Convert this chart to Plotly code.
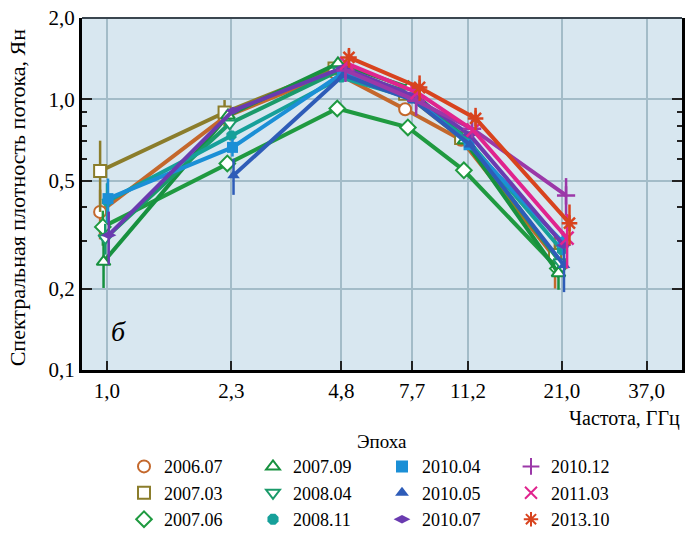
import plotly.graph_objects as go
import numpy as np

# ---------------- data ----------------
freqs = [1.0, 2.3, 4.8, 7.7, 11.2, 21.0]
x_tick_vals = [1.0, 2.3, 4.8, 7.7, 11.2, 21.0, 37.0]
x_tick_text = ["1,0", "2,3", "4,8", "7,7", "11,2", "21,0", "37,0"]
y_tick_vals = [0.1, 0.2, 0.5, 1.0, 2.0]
y_tick_text = ["0,1", "0,2", "0,5", "1,0", "2,0"]

epochs = ["2006.07", "2007.03", "2007.06", "2007.09", "2008.04", "2008.11",
          "2010.04", "2010.05", "2010.07", "2010.12", "2011.03", "2013.10"]

flux_2006_07 = [0.384, 0.86, 1.26, 0.92, 0.71, 0.26]
flux_2007_03 = [0.544, 0.895, 1.30, 1.05, 0.72, 0.266]
flux_2007_06 = [0.338, 0.58, 0.926, 0.788, 0.547, 0.237]
flux_2007_09 = [0.251, 0.873, 1.36, 1.107, 0.706, 0.228]
flux_2008_04 = [0.307, 0.815, 1.28, 1.06, 0.72, 0.25]
flux_2008_11 = [0.42, 0.736, 1.205, 1.01, 0.706, 0.277]
flux_2010_04 = [0.43, 0.665, 1.25, 1.017, 0.68, 0.296]
flux_2010_05 = [None, 0.524, 1.23, 0.99, 0.68, 0.244]
flux_2010_07 = [0.315, 0.91, 1.31, 1.03, 0.74, 0.289]
flux_2010_12 = [None, None, 1.28, 0.99, 0.78, 0.442]
flux_2011_03 = [None, None, 1.36, 1.06, 0.77, 0.307]
flux_2013_10 = [None, None, 1.43, 1.107, 0.851, 0.349]

err_2006_07 = [0.08, 0, 0, 0.05, 0, 0.06]
err_2007_03 = [0.16, 0.1, 0, 0, 0, 0.03]
err_2007_06 = [0.05, 0, 0, 0, 0, 0]
err_2007_09 = [0.05, 0, 0, 0, 0, 0.03]
err_2008_04 = [0.04, 0, 0, 0, 0, 0]
err_2008_11 = [0.07, 0, 0, 0, 0, 0]
err_2010_04 = [0.08, 0.05, 0, 0, 0, 0.03]
err_2010_05 = [0, 0.08, 0, 0, 0, 0.05]
err_2010_07 = [0.07, 0, 0, 0, 0, 0]
err_2010_12 = [0, 0, 0.12, 0.12, 0, 0.07]
err_2011_03 = [0, 0, 0, 0, 0, 0.07]
err_2013_10 = [0, 0, 0.12, 0.12, 0.08, 0.06]

fluxes = [flux_2006_07, flux_2007_03, flux_2007_06, flux_2007_09, flux_2008_04, flux_2008_11,
          flux_2010_04, flux_2010_05, flux_2010_07, flux_2010_12, flux_2011_03, flux_2013_10]
errors = [err_2006_07, err_2007_03, err_2007_06, err_2007_09, err_2008_04, err_2008_11,
          err_2010_04, err_2010_05, err_2010_07, err_2010_12, err_2011_03, err_2013_10]

# ---------------- style ----------------
colors = ["#c4682c", "#8b7d2b", "#1f9a40", "#17913f", "#1a9a6a", "#16a09a",
          "#1b8fd6", "#2e5cb8", "#6a3bb0", "#9b38a8", "#e0248e", "#d8431e"]
symbols = ["circle", "square", "diamond", "triangle-up", "triangle-down", "octagon",
           "square", "triangle-up", "diamond-wide", "cross-thin", "x-thin", "asterisk"]
open_marker = [True, True, True, True, True, False,
               False, False, False, False, False, False]
x_jitter = [-0.02, -0.02, -0.012, -0.01, -0.005, 0.0,
            0.003, 0.006, 0.005, 0.012, 0.015, 0.022]
legend_rank = [1, 5, 9, 2, 6, 10, 3, 7, 11, 4, 8, 12]

SERIF = "Liberation Serif"

fig = go.Figure()

for i, name in enumerate(epochs):
    xs = [f * 10 ** x_jitter[i] for f in freqs]
    c = colors[i]
    thin = symbols[i] in ("cross-thin", "x-thin", "asterisk")
    if open_marker[i]:
        mk = dict(symbol=symbols[i], size=12, color="white", line=dict(color=c, width=2))
    elif thin:
        mk = dict(symbol=symbols[i], size=13, color=c, line=dict(color=c, width=2.5))
    else:
        mk = dict(symbol=symbols[i], size=11, color=c, line=dict(color=c, width=0))
    fig.add_trace(go.Scatter(
        x=xs, y=fluxes[i], mode="lines+markers", name=name,
        line=dict(color=c, width=4),
        marker=mk,
        error_y=dict(type="data", array=errors[i], symmetric=True,
                     color=c, thickness=2.5, width=0),
        showlegend=False,
    ))
    # legend entry (markers only)
    fig.add_trace(go.Scatter(
        x=[None], y=[None], mode="markers", name=name,
        marker=mk, showlegend=True, legendrank=legend_rank[i],
    ))

fig.add_annotation(text="<i>б</i>", x=0.045, y=0.06, xref="paper", yref="paper",
                   showarrow=False, font=dict(family=SERIF, size=28, color="black"))
fig.add_annotation(text="Частота, ГГц", x=1.0, y=-0.139, xref="paper", yref="paper",
                   xanchor="right", yanchor="middle", showarrow=False,
                   font=dict(family=SERIF, size=20, color="black"))
fig.add_annotation(text="Спектральная плотность потока, Ян", x=-0.107, y=0.49,
                   xref="paper", yref="paper", textangle=-90, showarrow=False,
                   xanchor="center", yanchor="middle",
                   font=dict(family=SERIF, size=22, color="black"))
# top border (thin)
fig.add_shape(type="line", xref="paper", yref="paper", x0=0, x1=1, y0=1, y1=1,
              line=dict(color="#3a4650", width=2))

fig.update_xaxes(
    type="log", range=[np.log10(0.846), np.log10(46.9)],
    tickmode="array", tickvals=x_tick_vals, ticktext=x_tick_text,
    ticks="inside", ticklen=9, tickwidth=2, tickcolor="#222",
    showgrid=True, gridcolor="#a3bcc8", gridwidth=1.5,
    showline=True, linecolor="black", linewidth=3, mirror=False,
    tickfont=dict(family=SERIF, size=21, color="black"),
    zeroline=False,
)
fig.update_yaxes(
    type="log", range=[-1, np.log10(2.0)],
    tickmode="array", tickvals=y_tick_vals, ticktext=y_tick_text,
    ticks="inside", ticklen=10, tickwidth=2, tickcolor="#222",
    minor=dict(tickmode="array", tickvals=[0.3, 0.4, 0.6, 0.7, 0.8, 0.9],
               ticks="inside", ticklen=5, tickwidth=1.5, tickcolor="#222", showgrid=False),
    showgrid=True, gridcolor="#a3bcc8", gridwidth=1.5,
    showline=True, linecolor="black", linewidth=3, mirror="ticks",
    tickfont=dict(family=SERIF, size=21, color="black"),
    zeroline=False,
)

fig.update_layout(
    width=686, height=535,
    margin=dict(l=82, r=4, t=18, b=165, autoexpand=False),
    paper_bgcolor="white", plot_bgcolor="#d8e7f0",
    font=dict(family=SERIF, size=20, color="black"),
    legend=dict(
        orientation="h", x=0.5, xanchor="center", y=-0.152, yanchor="top",
        entrywidth=84, entrywidthmode="pixels",
        title=dict(text="Эпоха", side="top center", font=dict(family=SERIF, size=19)),
        font=dict(family=SERIF, size=18, color="black"),
        traceorder="normal", itemsizing="constant",
    ),
)

fig.write_html("out.html", config={"displayModeBar": False},
               post_script="document.body.style.margin='0';document.body.style.padding='0';")
